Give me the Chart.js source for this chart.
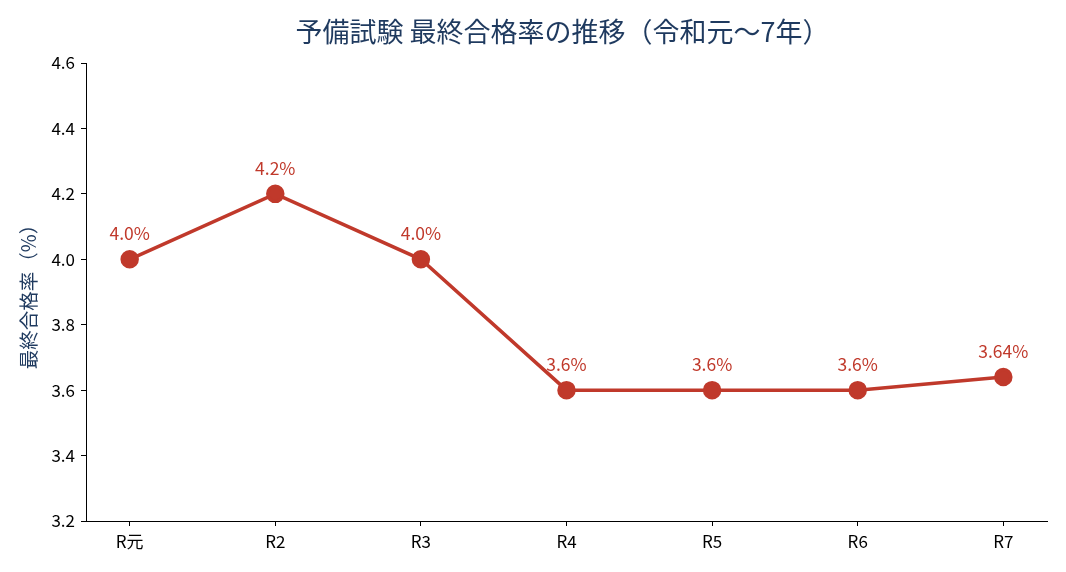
<!DOCTYPE html>
<html>
<head>
<meta charset="utf-8">
<script src="https://cdn.jsdelivr.net/npm/chart.js@4"></script>
<style>
  html, body { margin: 0; padding: 0; background: #fff; }
  #wrap { width: 1066px; height: 572px; }
</style>
</head>
<body>
<div id="wrap"><canvas id="chart" width="1066" height="572"></canvas></div>
<script>
const categories = ['R元', 'R2', 'R3', 'R4', 'R5', 'R6', 'R7'];
const passRates = [4.0, 4.2, 4.0, 3.6, 3.6, 3.6, 3.64];
const yTicks = [3.2, 3.4, 3.6, 3.8, 4.0, 4.2, 4.4, 4.6];

const FONT = '"Noto Sans CJK JP", "Noto Sans", sans-serif';
const RED = '#c0392b';
const NAVY = '#1f3a5f';

function labelFor(v) {
    return (Math.round(v * 100) % 10 === 0 ? v.toFixed(1) : v.toFixed(2)) + '%';
}

const titlePlugin = {
    id: 'centerTitle',
    afterDraw(chart) {
        const { ctx, chartArea } = chart;
        ctx.save();
        ctx.font = '27px ' + FONT;
        ctx.fillStyle = NAVY;
        ctx.textAlign = 'center';
        ctx.textBaseline = 'middle';
        ctx.fillText('予備試験 最終合格率の推移（令和元〜7年）', (chartArea.left + chartArea.right) / 2 - 4, 32);
        ctx.restore();
    }
};

const pointLabels = {
    id: 'pointLabels',
    afterDatasetsDraw(chart) {
        const { ctx } = chart;
        const meta = chart.getDatasetMeta(0);
        ctx.save();
        ctx.font = '17.5px ' + FONT;
        ctx.fillStyle = RED;
        ctx.textAlign = 'center';
        ctx.textBaseline = 'middle';
        meta.data.forEach((pt, i) => {
            ctx.fillText(labelFor(passRates[i]), pt.x, pt.y - 26);
        });
        ctx.restore();
    }
};

new Chart(document.getElementById('chart').getContext('2d'), {
    type: 'line',
    data: {
        datasets: [{
            data: passRates.map((v, i) => ({ x: i, y: v })),
            borderColor: RED,
            backgroundColor: RED,
            borderWidth: 3.5,
            pointRadius: 7.5,
            pointHoverRadius: 7.5,
            pointBackgroundColor: RED,
            pointBorderColor: RED,
            tension: 0
        }]
    },
    options: {
        responsive: false,
        animation: false,
        layout: { padding: { top: 63, right: 19, left: 0, bottom: 0 } },
        plugins: { legend: { display: false }, tooltip: { enabled: false } },
        scales: {
            x: {
                type: 'linear',
                min: -0.3,
                max: 6.3,
                afterBuildTicks: s => { s.ticks = categories.map((c, i) => ({ value: i })); },
                afterFit: s => { s.height = 51; },
                ticks: {
                    callback: v => categories[v],
                    color: '#000',
                    font: { family: FONT, size: 17 },
                    padding: 5
                },
                grid: { drawOnChartArea: false, drawTicks: true, tickLength: 5, color: '#000' },
                border: { display: true, color: '#000', width: 1 }
            },
            y: {
                min: 3.2,
                max: 4.6,
                afterBuildTicks: s => { s.ticks = yTicks.map(v => ({ value: v })); },
                afterFit: s => { s.width = 86; },
                ticks: {
                    callback: v => v.toFixed(1),
                    color: '#000',
                    font: { family: FONT, size: 17 },
                    padding: 6
                },
                title: {
                    display: true,
                    text: '最終合格率（%）',
                    color: NAVY,
                    font: { family: FONT, size: 19.5 },
                    padding: { top: 17, bottom: 0 }
                },
                grid: { drawOnChartArea: false, drawTicks: true, tickLength: 5, color: '#000' },
                border: { display: true, color: '#000', width: 1 }
            }
        }
    },
    plugins: [titlePlugin, pointLabels]
});
</script>
</body>
</html>
